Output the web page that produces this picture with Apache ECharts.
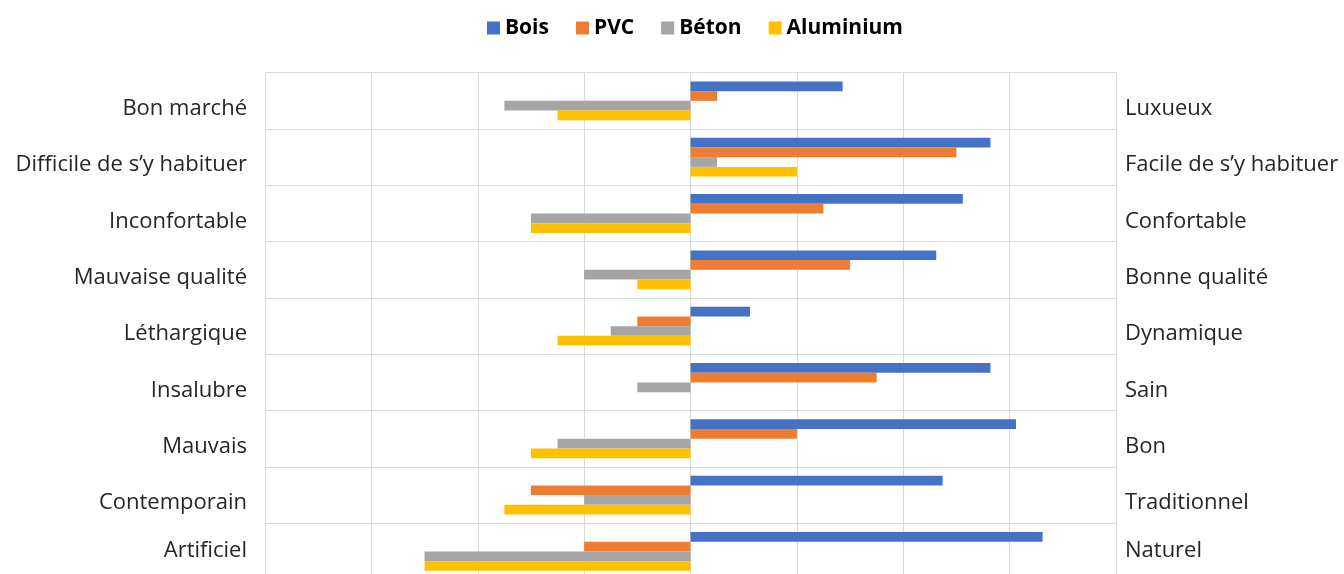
<!DOCTYPE html>
<html>
<head>
<meta charset="utf-8">
<script src="https://cdn.jsdelivr.net/npm/echarts@6/dist/echarts.min.js"></script>
<style>
html,body{margin:0;padding:0;background:#fff;overflow:hidden;}
#chart{width:1344px;height:580px;}
</style>
</head>
<body>
<div id="chart"></div>
<script>
const leftLabels = ["Bon marché", "Difficile de s’y habituer", "Inconfortable", "Mauvaise qualité", "Léthargique", "Insalubre", "Mauvais", "Contemporain", "Artificiel"];
const rightLabels = ["Luxueux", "Facile de s’y habituer", "Confortable", "Bonne qualité", "Dynamique", "Sain", "Bon", "Traditionnel", "Naturel"];
const seriesNames = ["Bois", "PVC", "Béton", "Aluminium"];
const bois = [1.43, 2.82, 2.56, 2.31, 0.56, 2.82, 3.06, 2.37, 3.31];
const pvc = [0.25, 2.5, 1.25, 1.5, -0.5, 1.75, 1.0, -1.5, -1.0];
const beton = [-1.75, 0.25, -1.5, -1.0, -0.75, -0.5, -1.25, -1.0, -2.5];
const aluminium = [-1.25, 1.0, -1.5, -0.5, -1.25, 0, -1.5, -1.75, -2.5];
const colors = ["#4472C4", "#ED7D31", "#A5A5A5", "#FFC000"];

const FONT = "'Open Sans', 'Noto Sans', sans-serif";
const chart = echarts.init(document.getElementById('chart'), null, {renderer: 'canvas'});
const dataSets = [bois, pvc, beton, aluminium];

const labelFormatter = (v, i) => (i === leftLabels.length - 1 ? '{b|' + v + '}' : '{a|' + v + '}');
const labelRich = {
  a: {fontFamily: FONT, fontSize: 22, color: '#262626', padding: [16, 0, 0, 0]},
  b: {fontFamily: FONT, fontSize: 22, color: '#262626', padding: [0, 0, 2, 0]}
};

chart.setOption({
  animation: false,
  color: colors,
  legend: {
    top: 12.5,
    left: 482,
    itemWidth: 13,
    itemHeight: 13,
    itemGap: 27,
    icon: 'rect',
    textStyle: {fontFamily: FONT, fontSize: 21, fontWeight: 'bold', color: '#000'},
    data: seriesNames
  },
  grid: {left: 265, right: 228, top: 72.7, bottom: 0.4, containLabel: false},
  xAxis: {
    type: 'value', min: -4, max: 4, interval: 1,
    axisLabel: {show: false}, axisLine: {show: false}, axisTick: {show: false},
    splitLine: {show: true, lineStyle: {color: '#d9d9d9', width: 1}}
  },
  yAxis: [
    {
      type: 'category', inverse: true, position: 'left', data: leftLabels,
      axisLine: {show: false}, axisTick: {show: false},
      splitLine: {show: true, lineStyle: {color: '#d9d9d9', width: 1}},
      axisLabel: {margin: 18, formatter: labelFormatter, rich: labelRich}
    },
    {
      type: 'category', inverse: true, position: 'right', data: rightLabels,
      axisLine: {show: false}, axisTick: {show: false}, splitLine: {show: false},
      axisLabel: {margin: 9, formatter: labelFormatter, rich: labelRich}
    }
  ],
  series: seriesNames.map((n, i) => ({
    name: n, type: 'bar', yAxisIndex: 0, data: dataSets[i],
    barGap: '0%', barCategoryGap: '31%',
    itemStyle: {color: colors[i]}
  }))
});
</script>
</body>
</html>
